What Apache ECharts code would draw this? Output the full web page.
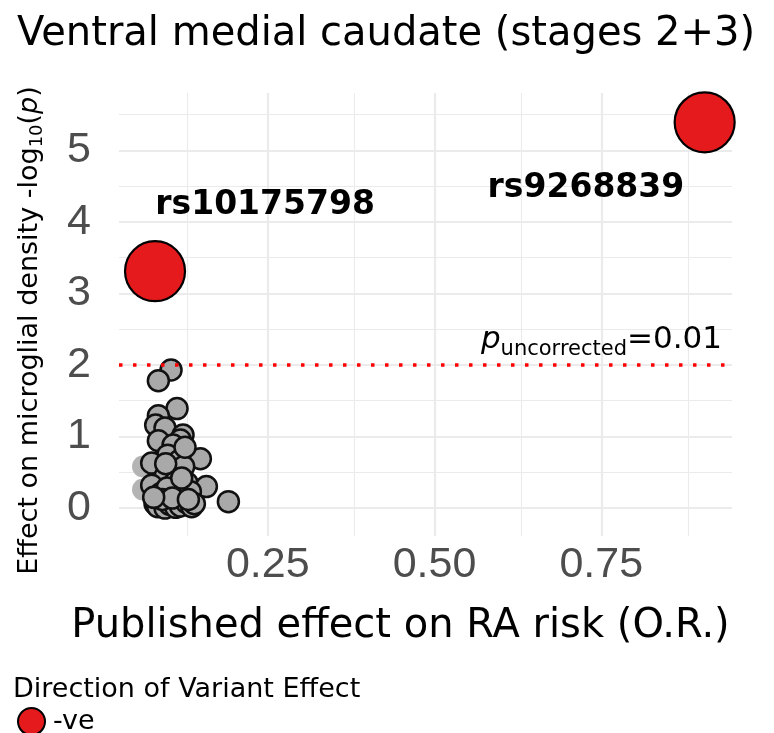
<!DOCTYPE html>
<html>
<head>
<meta charset="utf-8">
<script src="https://cdn.jsdelivr.net/npm/echarts@6/dist/echarts.min.js"></script>
<style>html,body{margin:0;padding:0;background:#fff;}#c{width:774px;height:733px;}</style>
</head>
<body>
<div id="c"></div>
<script>
// ---- data ----
const negX = [0.081, 0.905];
const negY = [3.31, 5.39];
const snpLabels = ['rs10175798', 'rs9268839'];
const snpLabelX = [0.246, 0.727];
const snpLabelY = [4.23, 4.47];

const grayX = [0.105,0.086,0.114,0.086,0.082,0.096,0.123,0.119,0.086,0.108,0.100,0.117,0.149,0.076,0.106,0.124,0.096,0.111,0.129,0.076,0.158,0.089,0.114,0.134,0.099,0.121,0.081,0.085,0.096,0.103,0.112,0.119,0.128,0.136,0.140,0.191,0.092,0.107,0.131,0.079,0.097,0.126];
const grayY = [1.93,1.78,1.39,1.29,1.16,1.12,1.02,0.95,0.94,0.88,0.74,0.66,0.69,0.63,0.54,0.58,0.44,0.36,0.35,0.32,0.30,0.20,0.19,0.23,0.28,0.42,0.06,0.02,0.00,0.05,0.01,0.03,0.08,0.02,0.06,0.09,0.12,0.14,0.12,0.15,0.62,0.85];
const fadedX = [0.063, 0.063];
const fadedY = [0.58, 0.26];

const xTicks = [0.25, 0.50, 0.75];
const xMinorGrid = [0.125, 0.375, 0.625, 0.875];
const yTicks = [0, 1, 2, 3, 4, 5];
const yMinorGrid = [0.5, 1.5, 2.5, 3.5, 4.5, 5.5];
const pThreshold = 2;   // -log10(0.01)

// ---- chart ----
const zip = (a, b) => a.map((v, i) => [v, b[i]]);
const gridCol = '#ebebeb';
const gridLines = []
  .concat(xTicks.map(v => ({ xAxis: v, lineStyle: { color: gridCol, width: 2.2, type: 'solid' } })))
  .concat(xMinorGrid.map(v => ({ xAxis: v, lineStyle: { color: gridCol, width: 1.1, type: 'solid' } })))
  .concat(yTicks.map(v => ({ yAxis: v, lineStyle: { color: gridCol, width: 2.2, type: 'solid' } })))
  .concat(yMinorGrid.map(v => ({ yAxis: v, lineStyle: { color: gridCol, width: 1.1, type: 'solid' } })));

const chart = echarts.init(document.getElementById('c'), null, { renderer: 'canvas' });
chart.setOption({
  animation: false,
  backgroundColor: '#ffffff',
  title: [
    { text: 'Ventral medial caudate (stages 2+3)', left: 12, top: 10,
      textStyle: { fontFamily: 'DejaVu Sans', fontSize: 40, fontWeight: 'normal', color: '#000' } },
    { text: 'Direction of Variant Effect', left: 8, top: 671,
      textStyle: { fontFamily: 'DejaVu Sans', fontSize: 27, fontWeight: 'normal', color: '#000' } }
  ],
  legend: {
    data: ['-ve'], left: 17, top: 707, padding: 0, icon: 'circle', itemWidth: 27, itemHeight: 27, itemGap: 6,
    textStyle: { fontFamily: 'DejaVu Sans', fontSize: 27, color: '#000', padding: [0, 0, 0, 3] }
  },
  grid: { left: 119, right: 42, top: 93, bottom: 197, containLabel: false },
  xAxis: {
    type: 'value', min: 0.027, max: 0.946,
    axisLine: { show: false }, axisTick: { show: false }, splitLine: { show: false },
    axisLabel: { customValues: xTicks, formatter: v => v.toFixed(2), margin: 8,
      fontFamily: 'Liberation Sans', fontSize: 43, color: '#4d4d4d' },
    name: 'Published effect on RA risk (O.R.)', nameLocation: 'middle', nameGap: 71,
    nameTextStyle: { fontFamily: 'DejaVu Sans', fontSize: 40, color: '#000', padding: [0, 50, 0, 0] }
  },
  yAxis: {
    type: 'value', min: -0.39, max: 5.80,
    axisLine: { show: false }, axisTick: { show: false }, splitLine: { show: false },
    axisLabel: { customValues: yTicks, margin: 28,
      fontFamily: 'Liberation Sans', fontSize: 43, color: '#4d4d4d' },
    name: '{t|Effect on microglial density -log}{s|10}{t|(}{i|p}{t|)}',
    nameLocation: 'middle', nameGap: 73, nameRotate: 90,
    nameTextStyle: {
      fontFamily: 'DejaVu Sans', fontSize: 27, color: '#000', padding: [0, 32, 0, 0],
      rich: {
        t: { fontFamily: 'DejaVu Sans', fontSize: 27, color: '#000', lineHeight: 27, verticalAlign: 'top' },
        i: { fontFamily: 'DejaVu Sans', fontStyle: 'italic', fontSize: 27, color: '#000', lineHeight: 27, verticalAlign: 'top' },
        s: { fontFamily: 'DejaVu Sans', fontSize: 18, color: '#000', lineHeight: 30, verticalAlign: 'bottom' }
      }
    }
  },
  series: [
    {
      name: 'faded', type: 'scatter', z: 2, symbolSize: 22,
      itemStyle: { color: '#b4b4b4', opacity: 1 },
      data: zip(fadedX, fadedY), silent: true,
      markLine: { z: 1, silent: true, symbol: 'none', label: { show: false }, data: gridLines }
    },
    {
      name: 'gray', type: 'scatter', z: 3, symbolSize: 21,
      itemStyle: { color: '#a9a9a9', borderColor: '#111', borderWidth: 2.5, opacity: 1 },
      data: zip(grayX, grayY), silent: true
    },
    {
      name: '-ve', type: 'scatter', z: 4, symbolSize: 60,
      itemStyle: { color: '#e41a1c', borderColor: '#000', borderWidth: 2.2, opacity: 1 },
      data: zip(negX, negY), silent: true,
      markLine: {
        z: 10, silent: true, symbol: 'none',
        label: {
          show: true, position: 'insideEndTop', distance: [10, 5],
          formatter: '{i|p}{s|uncorrected}{n|=0.01}',
          rich: {
            i: { fontFamily: 'DejaVu Sans', fontStyle: 'italic', fontSize: 31, color: '#000', lineHeight: 31, verticalAlign: 'top' },
            s: { fontFamily: 'DejaVu Sans', fontSize: 21, color: '#000', lineHeight: 36, verticalAlign: 'bottom' },
            n: { fontFamily: 'DejaVu Sans', fontSize: 31, color: '#000', lineHeight: 31, verticalAlign: 'top' }
          }
        },
        lineStyle: { color: '#ff0000', width: 3.5, type: [3.5, 10.5], opacity: 1 },
        data: [{ yAxis: pThreshold }]
      }
    },
    {
      name: 'labels', type: 'scatter', z: 6, symbolSize: 1, silent: true,
      itemStyle: { color: 'rgba(0,0,0,0)', opacity: 1 },
      label: { show: true, position: 'inside', formatter: p => p.name,
        fontFamily: 'DejaVu Sans', fontWeight: 'bold', fontSize: 33, color: '#000' },
      data: snpLabels.map((n, i) => ({ name: n, value: [snpLabelX[i], snpLabelY[i]] }))
    }
  ]
});
</script>
</body>
</html>
